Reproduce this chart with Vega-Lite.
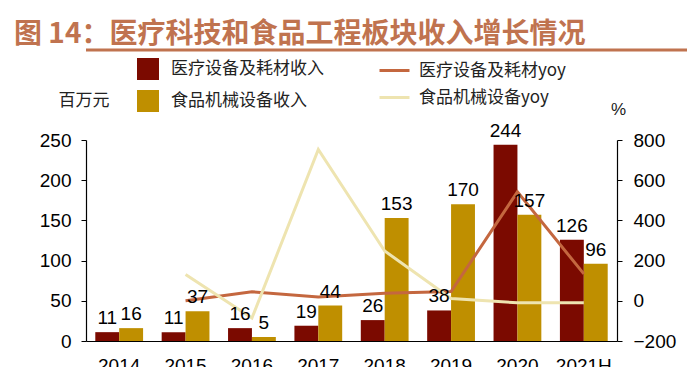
{
  "$schema": "https://vega.github.io/schema/vega-lite/v6.json",
  "background": "white",
  "padding": {"left": 14, "top": 20, "right": 0, "bottom": 0},
  "config": {"view": {"stroke": null}, "font": "Liberation Sans"},
  "datasets": {
    "bars": [
      {"year": "2014", "s": "医疗设备及耗材收入", "v": 11},
      {"year": "2014", "s": "食品机械设备收入", "v": 16},
      {"year": "2015", "s": "医疗设备及耗材收入", "v": 11},
      {"year": "2015", "s": "食品机械设备收入", "v": 37},
      {"year": "2016", "s": "医疗设备及耗材收入", "v": 16},
      {"year": "2016", "s": "食品机械设备收入", "v": 5},
      {"year": "2017", "s": "医疗设备及耗材收入", "v": 19},
      {"year": "2017", "s": "食品机械设备收入", "v": 44},
      {"year": "2018", "s": "医疗设备及耗材收入", "v": 26},
      {"year": "2018", "s": "食品机械设备收入", "v": 153},
      {"year": "2019", "s": "医疗设备及耗材收入", "v": 38},
      {"year": "2019", "s": "食品机械设备收入", "v": 170},
      {"year": "2020", "s": "医疗设备及耗材收入", "v": 244},
      {"year": "2020", "s": "食品机械设备收入", "v": 157},
      {"year": "2021H", "s": "医疗设备及耗材收入", "v": 126},
      {"year": "2021H", "s": "食品机械设备收入", "v": 96}
    ],
    "yoy": [
      {"year": "2015", "s": "医疗设备及耗材yoy", "v": 0},
      {"year": "2016", "s": "医疗设备及耗材yoy", "v": 45},
      {"year": "2017", "s": "医疗设备及耗材yoy", "v": 19},
      {"year": "2018", "s": "医疗设备及耗材yoy", "v": 37},
      {"year": "2019", "s": "医疗设备及耗材yoy", "v": 46},
      {"year": "2020", "s": "医疗设备及耗材yoy", "v": 542},
      {"year": "2021H", "s": "医疗设备及耗材yoy", "v": 134},
      {"year": "2015", "s": "食品机械设备yoy", "v": 131},
      {"year": "2016", "s": "食品机械设备yoy", "v": -86},
      {"year": "2017", "s": "食品机械设备yoy", "v": 753},
      {"year": "2018", "s": "食品机械设备yoy", "v": 248},
      {"year": "2019", "s": "食品机械设备yoy", "v": 11},
      {"year": "2020", "s": "食品机械设备yoy", "v": -10},
      {"year": "2021H", "s": "食品机械设备yoy", "v": -10}
    ]
  },
  "columns": 1,
  "spacing": 2,
  "resolve": {"legend": {"fill": "independent", "stroke": "independent"}, "scale": {"fill": "independent", "stroke": "independent"}},
  "concat": [
    {
      "title": {"text": "图 14：医疗科技和食品工程板块收入增长情况", "anchor": "start", "frame": "group", "font": "Noto Sans CJK SC", "fontSize": 28, "fontWeight": "bold", "color": "#C0734F", "offset": 0, "dx": -72},
      "width": 605,
      "height": 1,
      "data": {"values": [{"p": 0}]},
      "mark": {"type": "rule", "color": "#C0734F", "strokeWidth": 3},
      "encoding": {"y": {"field": "p", "type": "quantitative", "scale": {"domain": [0, 1]}, "axis": null}}
    },
    {
      "width": 531,
      "height": 201,
      "encoding": {
        "x": {"field": "year", "type": "nominal", "sort": null,
          "scale": {"domain": ["2014", "2015", "2016", "2017", "2018", "2019", "2020", "2021H"], "paddingInner": 0.28, "paddingOuter": 0.14},
          "axis": {"title": null, "labelAngle": 0, "labelFontSize": 19, "labelColor": "#000", "domainColor": "#000", "domainWidth": 1.2, "ticks": false, "labelPadding": 15}}
      },
      "layer": [
        {
          "data": {"name": "bars"},
          "mark": {"type": "bar"},
          "encoding": {
            "xOffset": {"field": "s", "type": "nominal", "sort": ["医疗设备及耗材收入", "食品机械设备收入"], "scale": {"paddingInner": 0, "paddingOuter": 0}},
            "y": {"field": "v", "type": "quantitative", "scale": {"domain": [0, 250], "nice": false},
              "axis": {"orient": "left", "values": [0, 50, 100, 150, 200, 250], "grid": false, "title": "百万元", "titleAngle": 0, "titleX": -28, "titleY": -40, "titleAlign": "left", "titleBaseline": "middle", "titleFont": "Noto Sans CJK SC", "titleFontSize": 17, "titleFontWeight": "normal", "titleColor": "#222", "labelFontSize": 19, "labelColor": "#000", "domainColor": "#000", "domainWidth": 1.2, "tickColor": "#000", "tickSize": 5, "labelPadding": 10}},
            "fill": {"field": "s", "type": "nominal", "scale": {"domain": ["医疗设备及耗材收入", "食品机械设备收入"], "range": ["#7B0A00", "#BF8F00"]},
              "legend": {"orient": "none", "legendX": 51, "legendY": -82, "direction": "vertical", "title": null, "symbolType": "square", "symbolSize": 484, "symbolStrokeWidth": 0, "labelFont": "Noto Sans CJK SC", "labelFontSize": 17, "labelColor": "#222", "rowPadding": 10, "labelOffset": 12, "padding": 0}}
          }
        },
        {
          "data": {"name": "yoy"},
          "mark": {"type": "line", "strokeWidth": 3},
          "encoding": {
            "y": {"field": "v", "type": "quantitative", "scale": {"domain": [-200, 800], "nice": false},
              "axis": {"orient": "right", "values": [-200, 0, 200, 400, 600, 800], "grid": false, "title": "%", "titleAngle": 0, "titleX": 1, "titleY": -31, "titleAlign": "center", "titleBaseline": "middle", "titleFontSize": 17, "titleFontWeight": "normal", "titleColor": "#222", "labelFontSize": 19, "labelColor": "#000", "domainColor": "#000", "domainWidth": 1.2, "tickColor": "#000", "tickSize": 5, "labelPadding": 11}},
            "stroke": {"field": "s", "type": "nominal", "scale": {"domain": ["医疗设备及耗材yoy", "食品机械设备yoy"], "range": ["#C4673F", "#EEE4B0"]},
              "legend": {"orient": "none", "legendX": 292, "legendY": -86, "direction": "vertical", "title": null, "symbolType": "stroke", "symbolSize": 900, "symbolStrokeWidth": 3, "labelFont": "Noto Sans CJK SC", "labelFontSize": 17, "labelColor": "#222", "rowPadding": 2, "labelOffset": 8, "padding": 0}}
          }
        },
        {
          "data": {"name": "bars"},
          "mark": {"type": "text", "baseline": "bottom", "dy": -4, "fontSize": 19, "font": "Liberation Sans", "color": "#000"},
          "encoding": {
            "xOffset": {"field": "s", "type": "nominal", "sort": ["医疗设备及耗材收入", "食品机械设备收入"], "scale": {"paddingInner": 0, "paddingOuter": 0}},
            "y": {"field": "v", "type": "quantitative", "scale": {"domain": [0, 250], "nice": false}, "axis": null},
            "text": {"field": "v", "type": "quantitative"}
          }
        }
      ],
      "resolve": {"scale": {"y": "independent"}}
    }
  ]
}
